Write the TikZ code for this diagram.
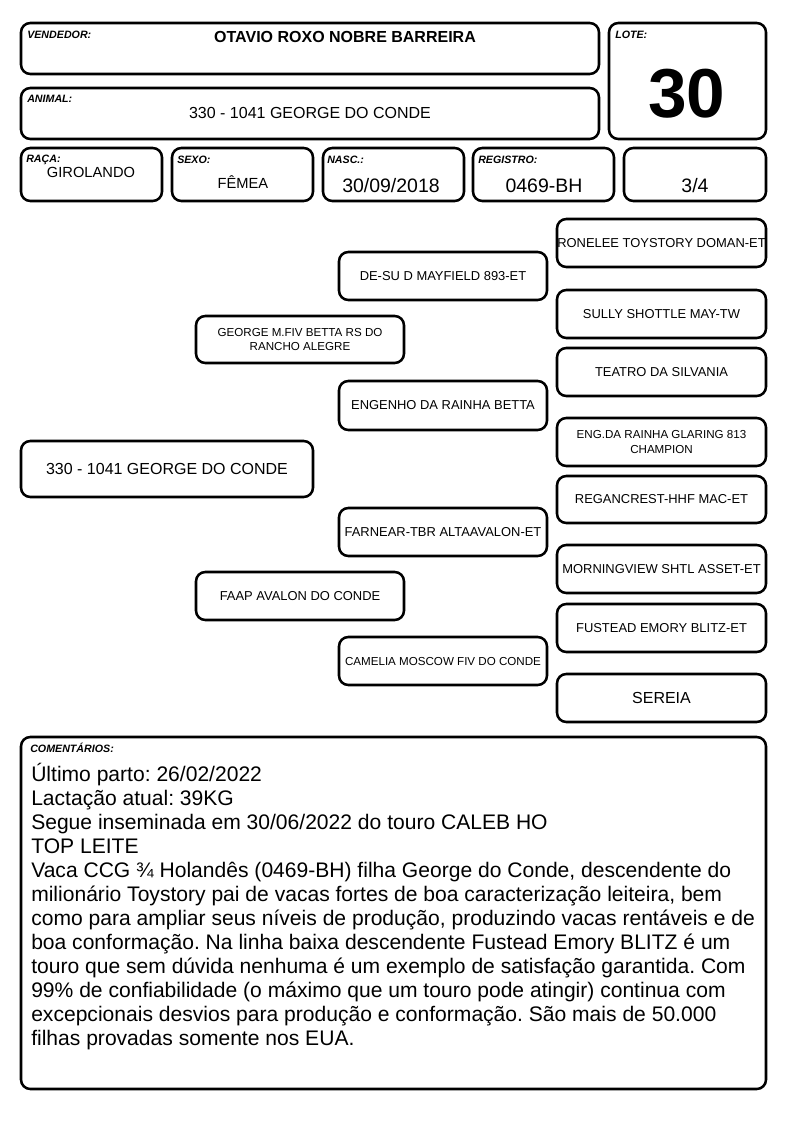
\documentclass[tikz,border=0pt]{standalone}
\usepackage{fontspec}
\setmainfont{Liberation Sans}
\frenchspacing
\begin{document}
\begin{tikzpicture}[x=0.75pt,y=-0.75pt,
 box/.style={draw, line width=1.9pt, rounded corners=7pt, inner sep=0pt, align=center},
 rect/.style args={#1/#2/#3/#4}{minimum width={(#3-#1)*0.75pt}, minimum height={(#4-#2)*0.75pt}, at={({(#1+#3)/2},{(#2+#4)/2})}},
 lbl/.style={anchor=base west, inner sep=0pt, font=\fontsize{8}{9}\selectfont\bfseries\itshape},
 val/.style={anchor=base, inner sep=0pt},
 ped/.style={box, font=\fontsize{9.7}{11.5}\selectfont},
 peds/.style={box, font=\fontsize{8.7}{11}\selectfont},
 pedb/.style={box, font=\fontsize{12}{14}\selectfont}]
\useasboundingbox (0,0) rectangle (794,1123);
% header
\node[box, rect=21/23/599/74] (vend) {};
\node[box, rect=609/23/766/139] (lote) {};
\node[box, rect=21/88/599/139] (animal) {};
\node[box, rect=21/148/162/201] (raca) {};
\node[box, rect=172/148/313/201] (sexo) {};
\node[box, rect=323/148/464/201] (nasc) {};
\node[box, rect=473/148/614/201] (reg) {};
\node[box, rect=624/148/766/201] (grau) {};
\node[lbl] (lvend) at (27,39) {VENDEDOR:};
\node[lbl] (llote) at (615,39) {LOTE:};
\node[lbl] (lanimal) at (27,103) {ANIMAL:};
\node[lbl] (lraca) at (26,163) {RAÇA:};
\node[lbl] (lsexo) at (177,164) {SEXO:};
\node[lbl] (lnasc) at (327,164) {NASC.:};
\node[lbl] (lreg) at (478,164) {REGISTRO:};
\node[val, font=\fontsize{12}{14}\selectfont\bfseries] (tvend) at (345,43) {OTAVIO ROXO NOBRE BARREIRA};
\node[val, font=\fontsize{52}{60}\selectfont\bfseries] (tlote) at (687,118) {30};
\node[val, font=\fontsize{12}{14}\selectfont] (tanimal) at (310,119) {330 - 1041 GEORGE DO CONDE};
\node[val, font=\fontsize{11}{13}\selectfont] (traca) at (91,178) {GIROLANDO};
\node[val, font=\fontsize{11}{13}\selectfont] (tsexo) at (243,189) {FÊMEA};
\node[val, font=\fontsize{14.6}{17}\selectfont] (tnasc) at (391,193) {30/09/2018};
\node[val, font=\fontsize{14.6}{17}\selectfont] (treg) at (544,193) {0469-BH};
\node[val, font=\fontsize{14.6}{17}\selectfont] (tgrau) at (695,193) {3/4};
% pedigree
\node[pedb, rect=21/441/313/497] (p0) {330 - 1041 GEORGE DO CONDE};
\node[peds, rect=196/316/404/363] (p1) {GEORGE M.FIV BETTA RS DO\\RANCHO ALEGRE};
\node[ped, rect=196/572/404/620] (p2) {FAAP AVALON DO CONDE};
\node[ped, rect=339/252/547/300] (p11) {DE-SU D MAYFIELD 893-ET};
\node[ped, rect=339/381/547/430] (p12) {ENGENHO DA RAINHA BETTA};
\node[ped, rect=339/508/547/556] (p21) {FARNEAR-TBR ALTAAVALON-ET};
\node[peds, rect=339/637/547/685] (p22) {CAMELIA MOSCOW FIV DO CONDE};
\node[ped, rect=557/219/766/267] (p111) {RONELEE TOYSTORY DOMAN-ET};
\node[ped, rect=557/290/766/338] (p112) {SULLY SHOTTLE MAY-TW};
\node[ped, rect=557/348/766/396] (p121) {TEATRO DA SILVANIA};
\node[peds, rect=557/418/766/466] (p122) {ENG.DA RAINHA GLARING 813\\CHAMPION};
\node[ped, rect=557/476/766/523] (p211) {REGANCREST-HHF MAC-ET};
\node[ped, rect=557/545/766/593] (p212) {MORNINGVIEW SHTL ASSET-ET};
\node[ped, rect=557/604/766/652] (p221) {FUSTEAD EMORY BLITZ-ET};
\node[pedb, rect=557/674/766/722] (p222) {SEREIA};
% comments
\node[box, rect=21/737/766/1089] (com) {};
\node[lbl] (lcom) at (30,752) {COMENTÁRIOS:};
\node[anchor=north west, inner sep=0pt, align=left, font=\fontsize{15.8}{18}\selectfont] (tcom) at (31,763) {Último parto: 26/02/2022\\
Lactação atual: 39KG\\
Segue inseminada em 30/06/2022 do touro CALEB HO\\
TOP LEITE\\
Vaca CCG ¾ Holandês (0469-BH) filha George do Conde, descendente do\\
milionário Toystory pai de vacas fortes de boa caracterização leiteira, bem\\
como para ampliar seus níveis de produção, produzindo vacas rentáveis e de\\
boa conformação. Na linha baixa descendente Fustead Emory BLITZ é um\\
touro que sem dúvida nenhuma é um exemplo de satisfação garantida. Com\\
99\% de confiabilidade (o máximo que um touro pode atingir) continua com\\
excepcionais desvios para produção e conformação. São mais de 50.000\\
filhas provadas somente nos EUA.};
\end{tikzpicture}
\end{document}
